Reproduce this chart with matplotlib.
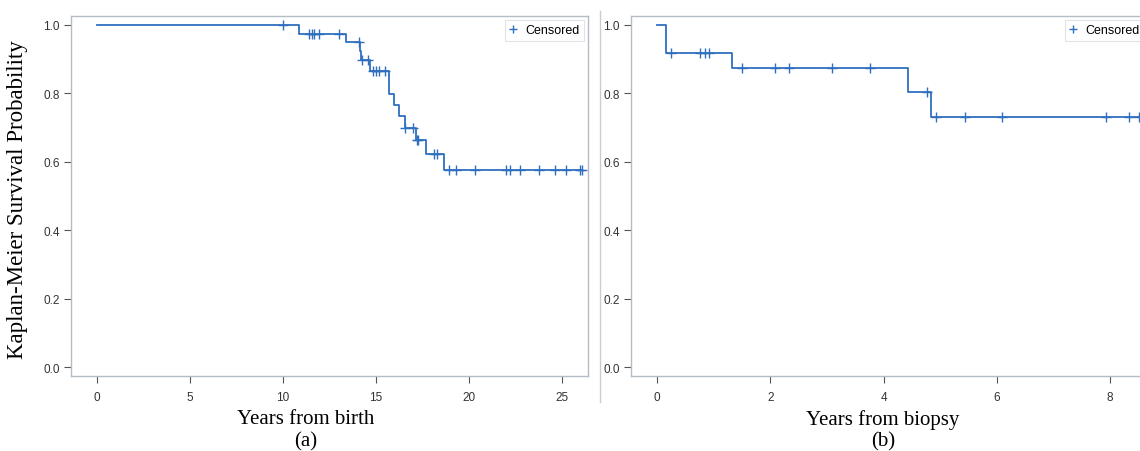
import matplotlib
matplotlib.use("Agg")
import matplotlib.pyplot as plt
from matplotlib.lines import Line2D

# panel (a): years from birth
birth_event_t = [10.88, 13.39, 14.15, 14.2, 14.68, 15.72, 15.99, 16.24, 16.56, 17.17, 17.69, 18.67]
birth_event_s = [0.974, 0.951, 0.922, 0.896, 0.866, 0.798, 0.767, 0.733, 0.698, 0.664, 0.622, 0.576]
birth_cens_t = [10.0, 11.4, 11.55, 11.68, 11.95, 13.0, 14.09, 14.22, 14.59,
                14.86, 15.0, 15.16, 15.48, 16.56, 16.97, 17.19, 17.26, 18.14, 18.28,
                18.9, 19.3, 20.3, 22.0, 22.2, 22.75, 23.75, 24.6, 25.2, 25.95, 26.1]
birth_end = 26.1

# panel (b): years from biopsy
biopsy_event_t = [0.165, 1.33, 4.43, 4.84]
biopsy_event_s = [0.918, 0.874, 0.804, 0.732]
biopsy_cens_t = [0.25, 0.76, 0.84, 0.92, 1.50, 2.08, 2.33, 3.09, 3.76, 4.76,
                 4.92, 5.43, 6.09, 7.93, 8.34, 8.52]
biopsy_end = 8.6

blue = '#2f6fbf'
frame = '#b4bcc6'
tick_font = ['Liberation Sans Narrow', 'Liberation Sans', 'DejaVu Sans']
serif = ['Liberation Serif', 'DejaVu Serif']


def step_curve(ev_t, ev_s, end):
    xs, ys = [0.0], [1.0]
    s = 1.0
    for t, v in zip(ev_t, ev_s):
        xs += [t, t]
        ys += [s, v]
        s = v
    xs.append(end)
    ys.append(s)
    return xs, ys


def surv_at(t, ev_t, ev_s):
    s = 1.0
    for et, v in zip(ev_t, ev_s):
        if et <= t:
            s = v
    return s


def km_panel(ax, ev_t, ev_s, cens_t, end, xlim, xticks):
    xs, ys = step_curve(ev_t, ev_s, end)
    ax.plot(xs, ys, color=blue, lw=1.3)
    cy = [surv_at(t, ev_t, ev_s) for t in cens_t]
    ax.plot(cens_t, cy, ls='none', marker='+', ms=7, mew=1.0, color=blue, label='Censored')
    ax.set_xlim(*xlim)
    ax.set_ylim(-0.025, 1.025)
    ax.set_xticks(xticks)
    ax.set_yticks([0.0, 0.2, 0.4, 0.6, 0.8, 1.0])
    ax.set_yticklabels(['0.0', '0.2', '0.4', '0.6', '0.8', '1.0'])
    for sp in ax.spines.values():
        sp.set_color(frame)
        sp.set_linewidth(1.0)
    ax.tick_params(colors='#555555', length=5, width=0.8, labelsize=8.5, pad=6)
    ax.tick_params(axis='y', pad=3)
    for lab in ax.get_xticklabels() + ax.get_yticklabels():
        lab.set_family(tick_font)
        lab.set_color('#333333')
    leg = ax.legend(loc='upper right', frameon=True, fancybox=False,
                    handlelength=0.6, handletextpad=0.7, borderpad=0.35,
                    borderaxespad=0.3, markerscale=0.75,
                    prop={'family': tick_font, 'size': 9})
    leg.get_frame().set_edgecolor('#d8dce0')
    leg.get_frame().set_linewidth(0.8)


fig = plt.figure(figsize=(11.4, 4.52), dpi=100)
ax1 = fig.add_axes([0.0623, 0.166, 0.4535, 0.796])
ax2 = fig.add_axes([0.5535, 0.166, 0.4535, 0.796])

km_panel(ax1, birth_event_t, birth_event_s, birth_cens_t, birth_end,
         (-1.4, 26.4), [0, 5, 10, 15, 20, 25])
km_panel(ax2, biopsy_event_t, biopsy_event_s, biopsy_cens_t, biopsy_end,
         (-0.46, 8.67), [0, 2, 4, 6, 8])

# separator between the two panels
fig.add_artist(Line2D([600 / 1140, 600 / 1140], [1 - 12 / 452, 1 - 403 / 452],
                      transform=fig.transFigure, color='#c8cdd3', lw=1.0))

fig.text(18 / 1140, 1 - 200 / 452, 'Kaplan-Meier Survival Probability', rotation=90,
         ha='center', va='center', fontsize=16.5, family=serif)
fig.text(306 / 1140, 1 - 420 / 452, 'Years from birth', ha='center', va='center',
         fontsize=15, family=serif)
fig.text(306 / 1140, 1 - 442 / 452, '(a)', ha='center', va='center',
         fontsize=15, family=serif)
fig.text(883 / 1140, 1 - 420 / 452, 'Years from biopsy', ha='center', va='center',
         fontsize=15, family=serif)
fig.text(883 / 1140, 1 - 442 / 452, '(b)', ha='center', va='center',
         fontsize=15, family=serif)

fig.savefig('out.png', dpi=100)
